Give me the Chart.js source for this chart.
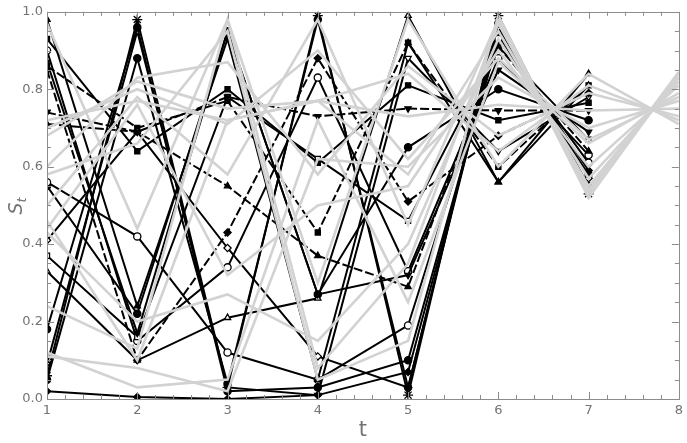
<!DOCTYPE html>
<html>
<head>
<meta charset="utf-8">
<script src="https://cdn.jsdelivr.net/npm/chart.js@4.4.0/dist/chart.umd.min.js"></script>
<style>
  html, body { margin: 0; padding: 0; background: #fff; }
</style>
</head>
<body>
<canvas id="chart" width="687" height="443"></canvas>
<script>
// time steps
const stepsBlack = [1, 2, 3, 4, 5, 6, 7];
const stepsGrey = [1, 2, 3, 4, 5, 6, 7, 8];

// tick labels
const xTicks = [1, 2, 3, 4, 5, 6, 7, 8];
const yTicks = [0, 0.2, 0.4, 0.6, 0.8, 1.0];

// black runs (with markers), S_t read at t = 1..7
const b1 = [0.06, 0.98, 0.03, 0.99, 0.01, 0.99, 0.53];
const b2 = [0.05, 0.88, 0.04, 0.98, 0.03, 0.97, 0.55];
const b3 = [0.98, 0.24, 0.93, 0.05, 0.92, 0.56, 0.84];
const b4 = [0.93, 0.64, 0.80, 0.61, 0.81, 0.72, 0.765];
const b5 = [0.74, 0.69, 0.78, 0.73, 0.75, 0.745, 0.745];
const b6 = [0.56, 0.42, 0.12, 0.05, 0.19, 0.93, 0.61];
const b7 = [0.41, 0.69, 0.39, 0.11, 0.03, 0.96, 0.57];
const b8 = [0.71, 0.69, 0.55, 0.37, 0.29, 0.91, 0.64];
const b9 = [0.87, 0.17, 0.95, 0.27, 0.32, 0.85, 0.69];
const b10 = [0.85, 0.10, 0.43, 0.88, 0.51, 0.68, 0.79];
const b11 = [0.37, 0.16, 0.78, 0.62, 0.46, 0.91, 0.67];
const b12 = [0.90, 0.15, 0.34, 0.83, 0.33, 0.88, 0.63];
const b13 = [0.33, 0.10, 0.21, 0.26, 0.99, 0.56, 0.81];
const b14 = [0.18, 0.96, 0.02, 0.03, 0.10, 0.93, 0.58];
const b15 = [0.02, 0.005, 0.0, 0.01, 0.07, 0.94, 0.59];
const b16 = [0.09, 0.95, 0.03, 0.01, 0.88, 0.64, 0.78];
const b17 = [0.55, 0.22, 0.95, 0.27, 0.65, 0.80, 0.72];
const b18 = [0.86, 0.70, 0.77, 0.43, 0.92, 0.60, 0.81];

// grey runs (plain lines), S_t read at t = 1..8
const g1 = [0.97, 0.44, 0.98, 0.30, 0.98, 0.60, 0.84, 0.71];
const g2 = [0.72, 0.77, 0.72, 0.77, 0.73, 0.76, 0.745, 0.75];
const g3 = [0.70, 0.80, 0.71, 0.90, 0.62, 0.88, 0.67, 0.78];
const g4 = [0.68, 0.82, 0.75, 0.77, 0.58, 0.95, 0.55, 0.83];
const g5 = [0.60, 0.83, 0.87, 0.58, 0.86, 0.68, 0.79, 0.73];
const g6 = [0.50, 0.78, 0.58, 0.98, 0.45, 0.98, 0.52, 0.84];
const g7 = [0.44, 0.76, 0.32, 0.50, 0.55, 0.90, 0.60, 0.81];
const g8 = [0.43, 0.20, 0.27, 0.15, 0.40, 0.93, 0.57, 0.82];
const g9 = [0.24, 0.13, 0.98, 0.08, 0.35, 0.97, 0.54, 0.83];
const g10 = [0.12, 0.03, 0.05, 0.72, 0.25, 0.87, 0.66, 0.79];
const g11 = [0.11, 0.08, 0.02, 0.62, 0.60, 0.83, 0.70, 0.77];
const g12 = [0.46, 0.10, 0.72, 0.77, 0.84, 0.64, 0.81, 0.72];
const g13 = [0.58, 0.66, 0.95, 0.05, 0.15, 0.99, 0.53, 0.845];

const blackRuns = [b1, b2, b3, b4, b5, b6, b7, b8, b9, b10, b11, b12, b13, b14, b15, b16, b17, b18];
const greyRuns = [g1, g2, g3, g4, g5, g6, g7, g8, g9, g10, g11, g12, g13];

// marker for each black run, and whether it is hollow / dashed
const markers = ['star', 'circle', 'tri', 'rect', 'down', 'circle', 'diamond', 'tri', 'down',
                 'diamond', 'rect', 'circle', 'tri', 'circle', 'diamond', 'down', 'circle', 'rect'];
const hollow = [0, 0, 0, 0, 0, 1, 1, 0, 0, 0, 1, 1, 1, 0, 0, 1, 0, 0];
const dashed = [0, 0, 0, 0, 1, 0, 0, 1, 0, 1, 0, 0, 0, 0, 0, 0, 0, 1];

const GREY = '#d2d2d2';
const AXIS = '#8c8c8c';
const LABEL = '#737373';

function toPoints(xs, ys) {
  return xs.map((t, i) => ({ x: t, y: ys[i] }));
}

const datasets = [];

greyRuns.forEach((run, i) => {
  datasets.push({
    label: 'g' + (i + 1),
    data: toPoints(stepsGrey, run),
    borderColor: GREY,
    borderWidth: 2.6,
    pointRadius: 0,
    tension: 0,
    order: 0
  });
});

blackRuns.forEach((run, i) => {
  const m = markers[i];
  let style = m;
  let rot = 0;
  if (m === 'tri') style = 'triangle';
  if (m === 'down') { style = 'triangle'; rot = 180; }
  if (m === 'diamond') style = 'rectRot';
  datasets.push({
    label: 'b' + (i + 1),
    data: toPoints(stepsBlack, run),
    borderColor: '#000',
    borderWidth: 2,
    borderDash: dashed[i] ? [9, 3] : [],
    pointStyle: style,
    pointRotation: rot,
    pointRadius: m === 'star' ? 5 : 3.6,
    pointBorderWidth: 1.3,
    pointBorderColor: '#000',
    pointBackgroundColor: hollow[i] ? '#fff' : '#000',
    tension: 0,
    order: 1
  });
});

// frame with inward ticks and the axis titles
const framePlugin = {
  id: 'frame',
  afterDraw(chart) {
    const ctx = chart.ctx;
    const a = chart.chartArea;
    const xs = chart.scales.x;
    const ys = chart.scales.y;
    ctx.save();
    ctx.strokeStyle = AXIS;
    ctx.lineWidth = 1;
    ctx.strokeRect(Math.round(a.left) + 0.5, Math.round(a.top) + 0.5,
                   Math.round(a.right - a.left), Math.round(a.bottom - a.top));
    ctx.beginPath();
    for (let k = 0; k <= 35; k++) {
      const v = 1 + k * 0.2;
      const px = Math.round(xs.getPixelForValue(v)) + 0.5;
      const len = k % 5 === 0 ? 7 : 4;
      ctx.moveTo(px, a.bottom); ctx.lineTo(px, a.bottom - len);
      ctx.moveTo(px, a.top); ctx.lineTo(px, a.top + len);
    }
    for (let k = 0; k <= 20; k++) {
      const v = k * 0.05;
      const py = Math.round(ys.getPixelForValue(v)) + 0.5;
      const len = k % 4 === 0 ? 7 : 4;
      ctx.moveTo(a.left, py); ctx.lineTo(a.left + len, py);
      ctx.moveTo(a.right, py); ctx.lineTo(a.right - len, py);
    }
    ctx.stroke();

    ctx.fillStyle = LABEL;
    ctx.textAlign = 'center';
    ctx.textBaseline = 'middle';
    ctx.font = '21px "DejaVu Sans"';
    ctx.fillText('t', (a.left + a.right) / 2, 431);

    ctx.translate(17, (a.top + a.bottom) / 2);
    ctx.rotate(-Math.PI / 2);
    ctx.textAlign = 'left';
    ctx.font = 'italic 19px "DejaVu Sans"';
    ctx.fillText('S', -9, 0);
    ctx.font = 'italic 13px "DejaVu Sans"';
    ctx.fillText('t', 3, 6);
    ctx.restore();
  }
};

new Chart(document.getElementById('chart'), {
  type: 'line',
  data: { datasets: datasets },
  options: {
    responsive: false,
    animation: false,
    devicePixelRatio: 1,
    layout: { padding: { top: 7, right: 5, left: 0, bottom: 0 } },
    plugins: {
      legend: { display: false },
      tooltip: { enabled: false }
    },
    scales: {
      x: {
        type: 'linear',
        min: 1,
        max: 8,
        afterBuildTicks: s => { s.ticks = xTicks.map(v => ({ value: v })); },
        afterFit: s => { s.height = 44; },
        grid: { display: false, drawTicks: false },
        border: { display: false },
        ticks: {
          color: LABEL,
          padding: 4,
          font: { size: 13, family: 'DejaVu Sans' },
          callback: v => String(v)
        }
      },
      y: {
        min: 0,
        max: 1,
        afterBuildTicks: s => { s.ticks = yTicks.map(v => ({ value: v })); },
        afterFit: s => { s.width = 47; },
        grid: { display: false, drawTicks: false },
        border: { display: false },
        ticks: {
          color: LABEL,
          padding: 4,
          font: { size: 13, family: 'DejaVu Sans' },
          callback: v => v.toFixed(1)
        }
      }
    }
  },
  plugins: [framePlugin]
});
</script>
</body>
</html>
